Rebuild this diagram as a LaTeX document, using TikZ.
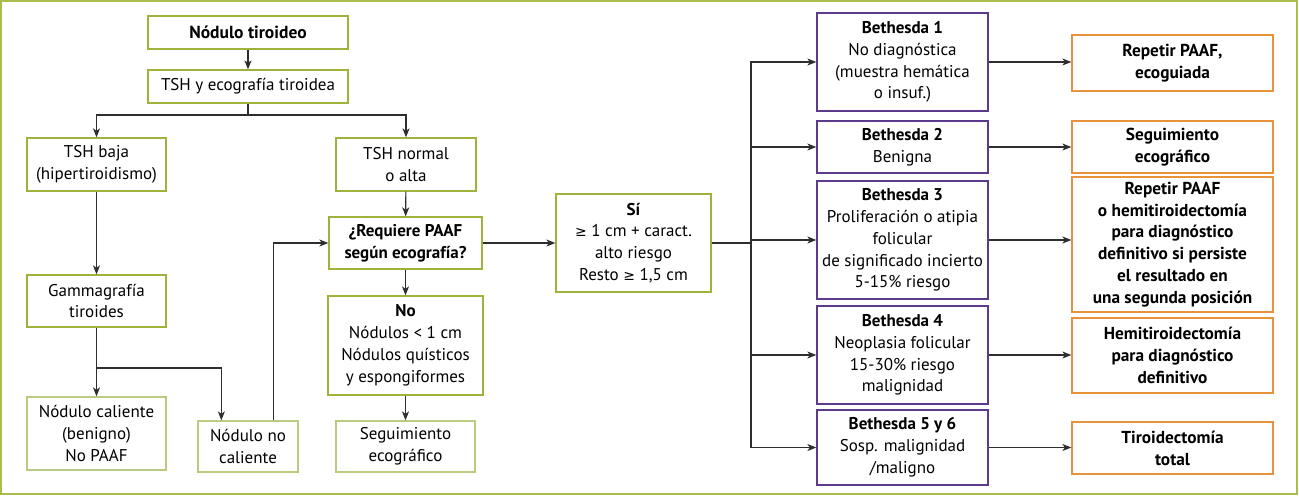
\documentclass[tikz,border=0pt]{standalone}
\usepackage{fontspec}
\setmainfont{PT Sans}
\newfontfamily\symf{DejaVu Sans}
\newcommand{\gequ}{{\symf\fontsize{14}{14}\selectfont ≥}}
\usetikzlibrary{arrows.meta}
\definecolor{grn}{HTML}{9DB33B}
\definecolor{lgrn}{HTML}{B9CB80}
\definecolor{frm}{HTML}{A9BC4C}
\definecolor{prp}{HTML}{5E3A8C}
\definecolor{org}{HTML}{E8923C}
\definecolor{ln}{HTML}{2E2E2E}
\begin{document}
\begin{tikzpicture}[x=1pt,y=-1pt,
  box/.style={draw=grn, line width=1.3pt, inner sep=0pt, align=center, font=\fontsize{17}{21.8}\selectfont, text=black},
  lbox/.style={box, draw=lgrn},
  pbox/.style={box, draw=prp},
  obox/.style={box, draw=org, font=\fontsize{17.3}{21.8}\selectfont\bfseries},
  arr/.style={draw=ln, line width=1.1pt, -{Stealth[length=9pt,width=7pt,inset=2.5pt]}},
  ln/.style={draw=ln, line width=1.1pt}]
\useasboundingbox (0,0) rectangle (1299,496);
\draw[frm, line width=1.3pt] (1,1) rectangle (1297,494);
% left part
\node[box, minimum width=200, minimum height=33] (n1) at (248,32.5) {\fontsize{17.5}{21.8}\selectfont\textbf{Nódulo tiroideo}};
\node[box, minimum width=200, minimum height=33] (n2) at (248,86.5) {TSH y ecografía tiroidea};
\node[box, minimum width=139, minimum height=53] (baja) at (96.5,164.5) {TSH baja\\(hipertiroidismo)};
\node[box, minimum width=140, minimum height=53] (normal) at (406,164.5) {TSH normal\\o alta};
\node[box, minimum width=153, minimum height=52] (req) at (405.5,243) {\textbf{¿Requiere PAAF}\\\textbf{según ecografía?}};
\node[box, minimum width=155, minimum height=99] (no) at (405.5,345.5) {\textbf{No}\\Nódulos < 1 cm\\Nódulos quísticos\\y espongiformes};
\node[lbox, minimum width=139, minimum height=51] (seg) at (405.5,446.5) {Seguimiento\\ecográfico};
\node[box, minimum width=139, minimum height=52] (gam) at (96.5,301) {Gammagrafía\\tiroides};
\node[lbox, minimum width=139, minimum height=73] (cal) at (96.5,433.5) {Nódulo caliente\\(benigno)\\No PAAF};
\node[lbox, minimum width=100, minimum height=51] (nocal) at (248,446.5) {Nódulo no\\caliente};
\node[box, minimum width=155, minimum height=98] (si) at (633.5,243) {\textbf{Sí}\\\gequ{} 1 cm + caract.\\alto riesgo\\Resto \gequ{} 1,5 cm};
% Bethesda
\node[pbox, minimum width=171, minimum height=98] (b1) at (902.5,62) {\textbf{Bethesda 1}\\No diagnóstica\\(muestra hemática\\o insuf.)};
\node[pbox, minimum width=171, minimum height=52] (b2) at (902.5,147) {\textbf{Bethesda 2}\\Benigna};
\node[pbox, minimum width=171, minimum height=118] (b3) at (902.5,240) {\textbf{Bethesda 3}\\Proliferación o atipia\\folicular\\de significado incierto\\5-15\% riesgo};
\node[pbox, minimum width=171, minimum height=98] (b4) at (902.5,355) {\textbf{Bethesda 4}\\Neoplasia folicular\\15-30\% riesgo\\malignidad};
\node[pbox, minimum width=171, minimum height=75] (b5) at (902.5,447.5) {\textbf{Bethesda 5 y 6}\\Sosp. malignidad\\/maligno};
% outcomes
\node[obox, minimum width=201, minimum height=56] (o1) at (1172.5,63) {Repetir PAAF,\\ecoguiada};
\node[obox, minimum width=201, minimum height=52] (o2) at (1172.5,147) {Seguimiento\\ecográfico};
\node[obox, minimum width=201, minimum height=135] (o3) at (1172.5,244.5) {Repetir PAAF\\o hemitiroidectomía\\para diagnóstico\\definitivo si persiste\\el resultado en\\una segunda posición};
\node[obox, minimum width=201, minimum height=75] (o4) at (1172.5,355.5) {Hemitiroidectomía\\para diagnóstico\\definitivo};
\node[obox, minimum width=201, minimum height=52] (o5) at (1172.5,448) {Tiroidectomía\\total};
% connectors
\draw[arr] (n1) -- (n2);
\coordinate (j1) at (248,115);
\draw[ln] (n2.south) -- (j1);
\draw[arr] (j1) -| (baja.north);
\draw[arr] (j1) -| (normal.north);
\draw[arr] (baja) -- (gam);
\draw[arr] (gam) -- (cal);
\coordinate (j2) at (96.5,368);
\draw[arr] (j2) -| ([xshift=24pt]nocal.north west);
\draw[arr] ([xshift=76pt]nocal.north west) |- (req.west);
\draw[arr] (normal) -- (req);
\draw[arr] (req) -- (no);
\draw[arr] (no) -- (seg);
\draw[arr] (req) -- (si);
\coordinate (bus) at (751,243);
\draw[ln] (si.east) -- (bus);
\foreach \b in {b1,b2,b3,b4,b5} { \draw[arr] (bus) |- (\b.west); }
\draw[arr] (b1.east) -- (b1.east -| o1.west);
\draw[arr] (b2.east) -- (b2.east -| o2.west);
\draw[arr] (b3.east) -- (b3.east -| o3.west);
\draw[arr] (b4.east) -- (b4.east -| o4.west);
\draw[arr] (b5.east) -- (b5.east -| o5.west);
\end{tikzpicture}
\end{document}
